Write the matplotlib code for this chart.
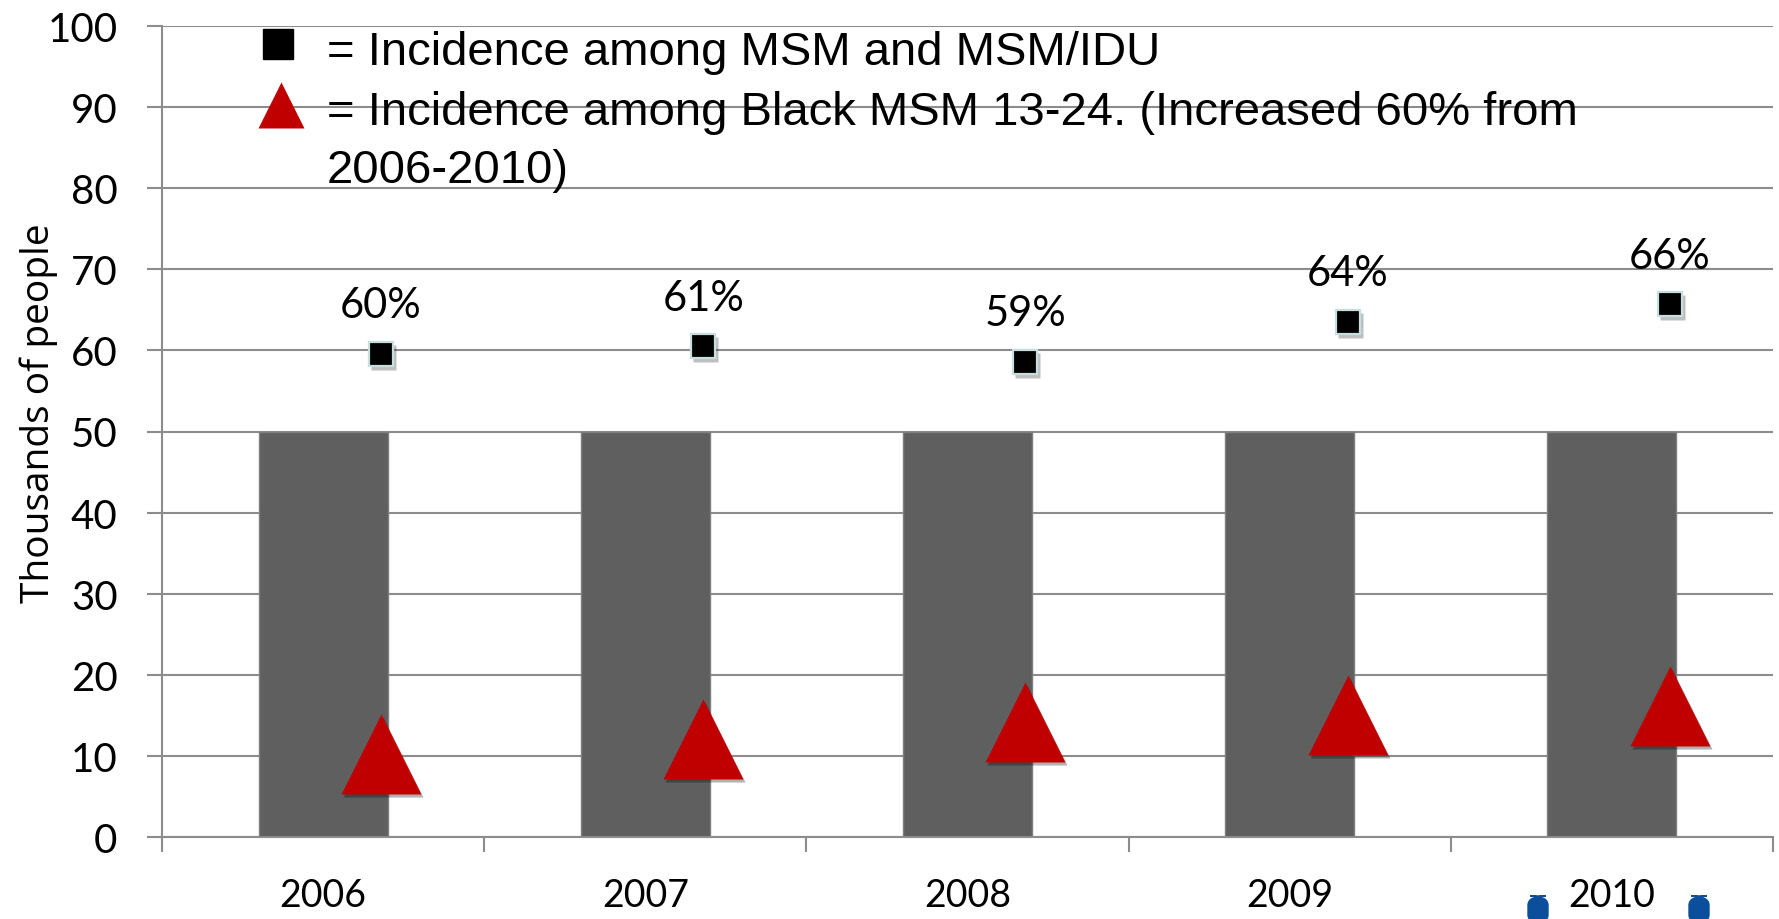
import numpy as np
import matplotlib.pyplot as plt
from matplotlib.transforms import offset_copy
from matplotlib.patches import FancyBboxPatch

# datos
anios = ['2006', '2007', '2008', '2009', '2010']
barras = [50, 50, 50, 50, 50]
msm = [59.6, 60.5, 58.6, 63.5, 65.7]
msm_pct = ['60%', '61%', '59%', '64%', '66%']
msm_negros = [10.2, 12.1, 14.2, 15.0, 16.1]
yticks = [0, 10, 20, 30, 40, 50, 60, 70, 80, 90, 100]

gris = '#8c8c8c'
fig = plt.figure(figsize=(17.79, 9.2), dpi=100)
ax = fig.add_axes([162/1779, 1-838/920, (1773-162)/1779, (838-27)/920])

x = np.arange(len(anios)) + 0.5
ax.bar(x, barras, width=0.4, color='#5f5f5f', edgecolor='#7f7f7f', linewidth=1, zorder=2)

# sombra suave debajo de los marcadores
tr_sombra = offset_copy(ax.transData, fig=fig, x=2, y=-3, units='dots')
ax.plot(x + 0.18, msm, ls='none', marker='s', ms=18, color='#000000', alpha=0.25,
        mec='none', transform=tr_sombra, zorder=3)
ax.plot(x + 0.18, msm_negros, ls='none', marker='^', ms=58, color='#000000', alpha=0.3,
        mec='none', transform=tr_sombra, zorder=3)
ax.plot(x + 0.18, msm, ls='none', marker='s', ms=17, mfc='k', mec='#c8dede', mew=1.6, zorder=4)
ax.plot(x + 0.18, msm_negros, ls='none', marker='^', ms=58, mfc='#c00000', mec='none', zorder=4)

for xi, yi, t in zip(x + 0.18, msm, msm_pct):
    ax.annotate(t, (xi, yi), xytext=(0, 35), textcoords='offset points', ha='center',
                va='center', fontsize=30, family='Lato', zorder=5)

ax.set_xlim(0, 5)
ax.set_ylim(0, 100)
ax.set_yticks(yticks)
ax.set_xticks(np.arange(0, 6))
ax.set_xticklabels([])
ax.set_xticks(x, minor=True)
ax.set_xticklabels(anios, minor=True, fontsize=27, family='Lato')
ax.tick_params(axis='x', which='minor', length=0, pad=29)
ax.tick_params(axis='x', which='major', length=11, width=1.5, color=gris)
ax.tick_params(axis='y', length=11, width=1.5, color=gris, pad=21, labelsize=29)
for lab in ax.get_yticklabels():
    lab.set_family('Lato')
ax.grid(axis='y', color=gris, lw=1.5, zorder=1)
for s in ['top', 'right']:
    ax.spines[s].set_visible(False)
ax.spines['left'].set_color(gris)
ax.spines['bottom'].set_color(gris)
ax.spines['left'].set_linewidth(1.5)
ax.spines['bottom'].set_linewidth(1.5)
ax.set_ylabel('Thousands of people', fontsize=28, family='Open Sans')
ax.yaxis.set_label_coords((58-162)/(1773-162), (838-413)/(838-27))

# leyenda hecha a mano
fig.text(327/1779, 1-65/920, '= Incidence among MSM and MSM/IDU', fontsize=34,
         family='Liberation Sans', va='baseline')
fig.text(327/1779, 1-125/920, '= Incidence among Black MSM 13-24. (Increased 60% from',
         fontsize=34, family='Liberation Sans', va='baseline')
fig.text(327/1779, 1-183/920, '2006-2010)', fontsize=34, family='Liberation Sans', va='baseline')
fig.lines.append(plt.Line2D([278/1779], [1-45/920], transform=fig.transFigure, ls='none',
                            marker='s', ms=21, color='k'))
fig.lines.append(plt.Line2D([281/1779], [1-106/920], transform=fig.transFigure, ls='none',
                            marker='^', ms=33, color='#c00000', mec='none'))

# marcas azules recortadas abajo
for cx in [1538, 1699]:
    fig.patches.append(FancyBboxPatch(((cx-10)/1779, 1-925/920), 20/1779, 28/920,
                                      boxstyle='round,pad=0,rounding_size=0.01',
                                      transform=fig.transFigure, color='#0b4f9c'))

plt.savefig('out.png', dpi=100)
